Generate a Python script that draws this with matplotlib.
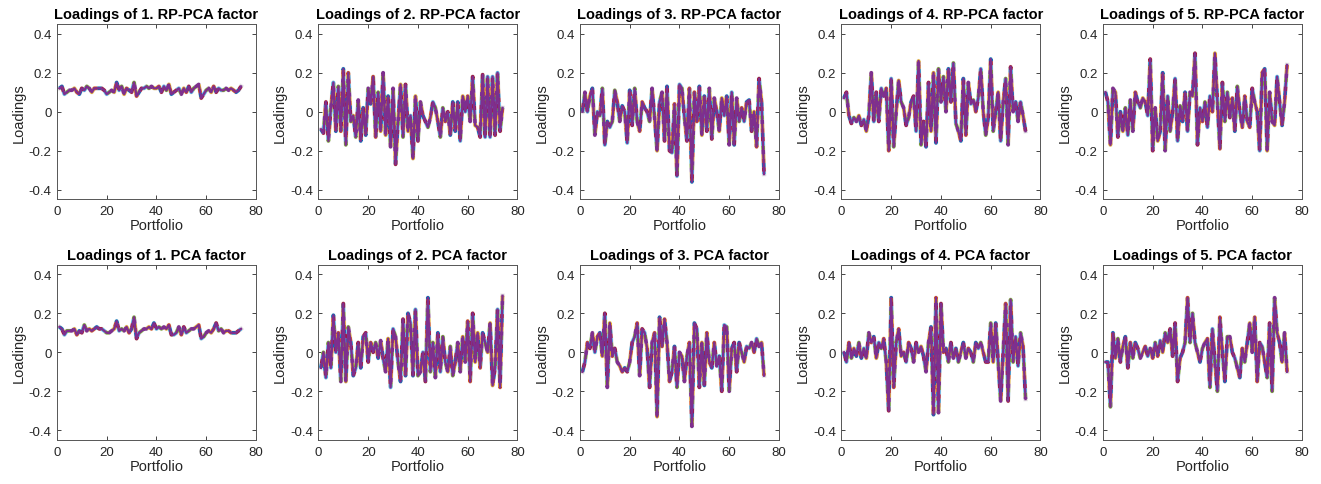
import matplotlib
matplotlib.use("Agg")
import matplotlib.pyplot as plt
import numpy as np

plt.rcParams['font.family'] = ['Liberation Sans', 'DejaVu Sans']
plt.rcParams['axes.unicode_minus'] = False

portfolio = np.arange(1, 75)

# last-window loadings (purple line on top)
rp1 = [0.12, 0.13, 0.09, 0.10, 0.11, 0.11, 0.12, 0.10, 0.09, 0.12,
       0.11, 0.13, 0.12, 0.10, 0.12, 0.12, 0.12, 0.12, 0.11, 0.09,
       0.10, 0.11, 0.10, 0.15, 0.11, 0.13, 0.09, 0.12, 0.11, 0.10,
       0.15, 0.08, 0.10, 0.12, 0.12, 0.13, 0.12, 0.13, 0.12, 0.12,
       0.13, 0.10, 0.13, 0.11, 0.14, 0.09, 0.10, 0.11, 0.12, 0.09,
       0.12, 0.10, 0.13, 0.10, 0.12, 0.13, 0.14, 0.07, 0.09, 0.11,
       0.12, 0.10, 0.13, 0.10, 0.12, 0.11, 0.11, 0.12, 0.11, 0.12,
       0.11, 0.10, 0.11, 0.13]
rp2 = [-0.09, -0.11, 0.05, -0.15, 0.02, 0.15, -0.10, 0.13, -0.10, 0.22,
       -0.17, 0.20, -0.05, -0.02, -0.13, 0.06, -0.15, 0.02, -0.12, 0.12,
       0.04, 0.18, -0.13, 0.10, -0.10, 0.20, -0.12, 0.08, -0.18, 0.12,
       -0.27, -0.05, 0.14, -0.13, 0.14, -0.10, -0.02, -0.24, 0.08, -0.15,
       0.05, -0.02, -0.05, -0.08, -0.03, 0.05, 0.02, -0.05, -0.13, 0.02,
       -0.05, 0.00, -0.12, 0.05, -0.10, 0.05, -0.15, 0.08, 0.00, 0.08,
       -0.05, 0.18, -0.07, -0.08, -0.13, 0.19, -0.13, 0.18, -0.13, 0.18,
       -0.12, 0.20, -0.10, 0.02]
rp3 = [0.00, 0.10, 0.00, 0.08, 0.12, -0.12, 0.00, -0.02, 0.12, -0.17,
       -0.05, -0.08, -0.05, 0.11, 0.05, -0.05, 0.03, 0.00, -0.16, 0.11,
       -0.07, 0.12, -0.05, -0.10, 0.05, 0.02, 0.00, -0.05, 0.12, -0.03,
       -0.20, 0.05, 0.10, -0.15, 0.13, -0.20, -0.21, 0.04, -0.33, 0.14,
       0.12, -0.03, -0.15, 0.12, -0.36, 0.10, -0.05, 0.13, -0.12, 0.08,
       -0.10, 0.12, -0.14, 0.07, 0.00, -0.10, 0.07, -0.02, 0.08, -0.17,
       0.10, -0.17, 0.07, -0.05, 0.02, -0.05, 0.05, 0.06, -0.10, 0.00,
       -0.18, 0.17, 0.05, -0.32]
rp4 = [0.07, 0.10, -0.02, -0.06, -0.03, -0.05, -0.02, -0.07, -0.04, -0.10,
       -0.02, 0.20, -0.05, 0.10, -0.05, 0.12, 0.08, 0.12, -0.20, 0.17,
       -0.18, 0.00, 0.16, 0.05, 0.02, -0.07, -0.03, 0.05, 0.08, -0.10,
       0.26, -0.17, -0.05, -0.18, 0.15, -0.10, 0.20, -0.16, 0.22, 0.05,
       0.18, 0.00, 0.22, 0.05, 0.25, -0.06, -0.10, -0.15, 0.17, -0.12,
       0.15, 0.04, 0.06, 0.00, 0.07, 0.22, 0.00, -0.12, -0.03, 0.27,
       -0.10, 0.00, 0.10, -0.15, 0.05, 0.17, -0.17, 0.23, 0.00, 0.05,
       -0.05, 0.05, -0.02, -0.10]
rp5 = [0.10, 0.05, -0.17, 0.12, 0.10, -0.13, 0.00, -0.10, 0.02, -0.12,
       0.06, -0.10, 0.10, 0.05, 0.02, 0.07, 0.05, -0.02, 0.27, -0.20,
       0.02, -0.15, -0.10, 0.20, -0.20, 0.08, -0.10, 0.00, 0.17, -0.15,
       0.03, -0.05, 0.10, -0.10, 0.10, 0.08, 0.30, -0.17, 0.02, -0.05,
       0.05, -0.08, 0.08, 0.00, 0.30, 0.05, -0.19, 0.15, -0.05, 0.10,
       -0.03, 0.07, -0.10, 0.13, 0.00, -0.08, 0.08, -0.05, -0.08, 0.12,
       0.05, 0.00, -0.20, 0.20, 0.22, -0.20, 0.10, -0.05, -0.07, 0.18,
       0.05, -0.07, 0.05, 0.24]

pca1 = [0.13, 0.12, 0.09, 0.11, 0.11, 0.11, 0.12, 0.09, 0.11, 0.10,
        0.14, 0.11, 0.12, 0.11, 0.12, 0.13, 0.12, 0.12, 0.11, 0.10,
        0.10, 0.11, 0.12, 0.16, 0.11, 0.12, 0.11, 0.13, 0.10, 0.12,
        0.18, 0.07, 0.10, 0.11, 0.12, 0.12, 0.13, 0.12, 0.15, 0.12,
        0.13, 0.12, 0.13, 0.12, 0.14, 0.09, 0.09, 0.10, 0.13, 0.09,
        0.13, 0.10, 0.11, 0.12, 0.12, 0.13, 0.14, 0.07, 0.08, 0.10,
        0.11, 0.10, 0.12, 0.15, 0.11, 0.12, 0.10, 0.11, 0.11, 0.10,
        0.10, 0.10, 0.11, 0.12]
pca2 = [-0.08, 0.00, -0.13, 0.05, -0.08, 0.19, 0.00, 0.10, -0.15, 0.25,
        -0.15, 0.13, 0.05, -0.12, -0.08, 0.05, -0.08, 0.08, 0.10, -0.05,
        0.05, 0.00, 0.05, -0.03, 0.06, -0.03, -0.10, 0.07, -0.18, 0.12,
        0.08, -0.05, -0.15, 0.17, -0.12, 0.20, 0.15, -0.12, 0.22, -0.12,
        -0.10, 0.00, -0.15, 0.28, -0.10, 0.05, -0.13, 0.10, -0.10, 0.08,
        -0.05, -0.10, 0.03, -0.12, -0.05, 0.05, -0.10, 0.08, -0.05, 0.16,
        -0.15, 0.20, -0.05, 0.10, -0.08, 0.10, 0.05, 0.00, 0.15, -0.17,
        -0.08, 0.22, -0.18, 0.29]
pca3 = [-0.10, -0.05, 0.05, 0.02, 0.10, 0.00, 0.08, 0.10, -0.02, 0.20,
        -0.18, 0.15, -0.02, 0.02, -0.05, -0.07, -0.10, -0.08, -0.10, -0.05,
        0.05, 0.08, 0.15, -0.12, 0.12, 0.10, 0.02, -0.18, 0.05, 0.10,
        -0.33, 0.18, 0.03, 0.17, 0.05, -0.15, -0.10, 0.03, -0.18, 0.00,
        -0.02, -0.15, -0.02, 0.05, -0.38, 0.15, 0.12, -0.18, 0.05, -0.17,
        0.10, -0.05, -0.08, 0.05, -0.07, -0.02, -0.20, 0.14, 0.13, -0.20,
        0.02, 0.05, -0.10, 0.05, 0.00, -0.05, 0.03, 0.02, 0.05, 0.00,
        0.07, 0.03, 0.05, -0.12]
pca4 = [0.00, -0.05, 0.05, -0.03, 0.02, -0.02, 0.05, -0.03, 0.02, -0.03,
        0.10, 0.05, 0.08, -0.03, 0.05, 0.02, 0.07, -0.05, -0.30, 0.28,
        -0.18, 0.05, 0.12, -0.02, 0.00, -0.05, 0.05, 0.02, -0.05, 0.05,
        0.00, 0.03, -0.02, -0.10, 0.05, 0.13, -0.32, 0.28, -0.31, 0.25,
        0.00, 0.02, -0.05, 0.05, -0.03, 0.02, -0.05, 0.00, 0.05, -0.03,
        0.02, 0.00, -0.05, 0.05, 0.02, 0.05, 0.00, -0.05, -0.05, 0.15,
        -0.05, 0.15, -0.05, -0.25, 0.00, 0.25, -0.25, 0.27, -0.05, 0.08,
        -0.07, 0.10, 0.03, -0.24]
pca5 = [-0.05, -0.05, -0.28, 0.10, -0.03, 0.07, -0.05, 0.03, 0.08, -0.08,
        0.05, -0.03, 0.05, 0.02, -0.03, 0.00, 0.03, -0.02, 0.02, -0.03,
        0.05, -0.02, 0.06, 0.00, 0.10, 0.05, 0.12, -0.02, 0.15, -0.15,
        -0.03, 0.00, 0.05, 0.28, 0.05, 0.20, 0.05, 0.00, -0.05, 0.02,
        0.05, 0.07, -0.18, 0.12, -0.05, -0.20, 0.18, 0.00, -0.15, 0.08,
        0.08, 0.00, -0.03, -0.08, -0.13, 0.02, -0.05, 0.05, 0.15, 0.00,
        0.18, -0.15, 0.05, 0.03, -0.05, -0.13, 0.15, -0.20, 0.28, 0.10,
        0.05, -0.05, 0.10, -0.10]

rows = [("RP-PCA", [rp1, rp2, rp3, rp4, rp5]),
        ("PCA", [pca1, pca2, pca3, pca4, pca5])]

# MATLAB default colour order
colors = ['#0072BD', '#D95319', '#EDB120', '#7E2F8E', '#77AC30', '#4DBEEE', '#A2142F']

fig, axes = plt.subplots(2, 5, figsize=(13.21, 4.85), dpi=100)
fig.subplots_adjust(left=0.0431, right=0.9856, top=0.9485, bottom=0.0907,
                    wspace=0.314, hspace=0.371)

for r, (name, series) in enumerate(rows):
    for k, vals in enumerate(series):
        ax = axes[r, k]
        # thin multicolour fringe standing in for the earlier windows
        ax.plot(portfolio, vals, color='#dddddd', lw=3.2, alpha=0.7)
        for j, c in enumerate(colors):
            ax.plot(portfolio, vals, color=c, lw=2.6,
                    linestyle=(j * 1.2, (1.2, 7.2)))
        ax.plot(portfolio, vals, color='#7E2F8E', lw=1.7)

        ax.set_xlim(0, 80)
        ax.set_ylim(-0.45, 0.45)
        ax.set_xticks([0, 20, 40, 60, 80])
        ax.set_yticks([-0.4, -0.2, 0, 0.2, 0.4])
        ax.set_yticklabels(['-0.4', '-0.2', '0', '0.2', '0.4'])
        ax.tick_params(direction='in', top=True, right=True, length=3,
                       width=0.6, labelsize=9.5, colors='#262626', pad=4)
        for s in ax.spines.values():
            s.set_color('#555555')
            s.set_linewidth(0.7)
        ax.set_title(f'Loadings of {k + 1}. {name} factor', fontsize=10.5,
                     fontweight='bold', pad=4)
        ax.set_xlabel('Portfolio', fontsize=10.5, color='#262626', labelpad=1)
        ax.set_ylabel('Loadings', fontsize=10.5, color='#262626', labelpad=2)

plt.savefig('out.png')
